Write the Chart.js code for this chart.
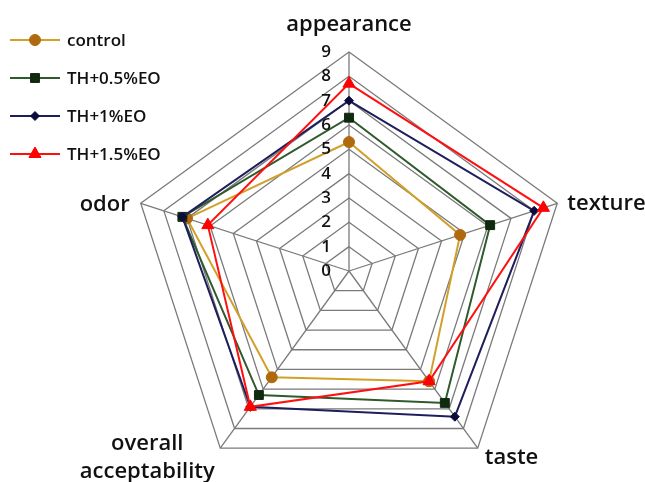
<!DOCTYPE html>
<html>
<head>
<meta charset="utf-8">
<script src="https://cdn.jsdelivr.net/npm/chart.js@4/dist/chart.umd.min.js"></script>
<style>
  html, body { margin: 0; padding: 0; background: #fff; overflow: hidden; }
  #wrap { width: 645px; height: 482px; overflow: hidden; }
</style>
</head>
<body>
<div id="wrap"><canvas id="radar" width="645" height="500"></canvas></div>
<script>
const attributes = ['appearance', 'texture', 'taste', ['overall', 'acceptability'], 'odor'];
const seriesNames = ['control', 'TH+0.5%EO', 'TH+1%EO', 'TH+1.5%EO'];
const controlValues = [5.3, 4.8, 5.6, 5.4, 7.0];
const th05Values = [6.3, 6.1, 6.7, 6.3, 7.2];
const th1Values = [7.0, 8.0, 7.4, 6.9, 7.2];
const th15Values = [7.7, 8.4, 5.6, 6.9, 6.1];
const tickValues = [0, 1, 2, 3, 4, 5, 6, 7, 8, 9];

const styles = [
    { line: '#d2a02a', point: '#b0690c', shape: 'circle', radius: 5.5 },
    { line: '#2f5a2c', point: '#102a10', shape: 'rect', radius: 6.3 },
    { line: '#1e1e5c', point: '#0c0c3c', shape: 'rectRot', radius: 4.5 },
    { line: '#ff1010', point: '#ff0000', shape: 'triangle', radius: 7 }
];

const allValues = [controlValues, th05Values, th1Values, th15Values];

const datasets = seriesNames.map((name, i) => ({
    label: name,
    data: allValues[i],
    borderColor: styles[i].line,
    backgroundColor: styles[i].point,
    pointBackgroundColor: styles[i].point,
    pointBorderColor: styles[i].point,
    pointStyle: styles[i].shape,
    pointRadius: styles[i].radius,
    pointBorderWidth: 1,
    borderWidth: 2,
    fill: false,
    tension: 0,
    order: 4 - i
}));

// tick numbers, axis names and the legend are drawn here
const labelPlugin = {
    id: 'labelPlugin',
    afterDraw(chart) {
        const ctx = chart.ctx;
        const r = chart.scales.r;
        ctx.save();
        ctx.fillStyle = '#111';

        ctx.font = '600 17px "Open Sans"';
        ctx.textAlign = 'right';
        ctx.textBaseline = 'middle';
        tickValues.forEach(v => {
            ctx.fillText(String(v), r.xCenter - 18, r.yCenter - r.getDistanceFromCenterForValue(v));
        });

        ctx.font = '600 22px "Open Sans"';
        const outer = r.getDistanceFromCenterForValue(9);
        const shifts = [
            { dx: 0, dy: -27, align: 'center' },
            { dx: 10, dy: 0, align: 'left' },
            { dx: 7, dy: 10, align: 'left' },
            { dx: -73, dy: -4, align: 'center' },
            { dx: -11, dy: 1, align: 'right' }
        ];
        attributes.forEach((name, i) => {
            const p = r.getPointPosition(i, outer);
            const s = shifts[i];
            ctx.textAlign = s.align;
            const lines = Array.isArray(name) ? name : [name];
            lines.forEach((ln, k) => ctx.fillText(ln, p.x + s.dx, p.y + s.dy + k * 28));
        });

        ctx.font = '600 17px "Open Sans"';
        ctx.textAlign = 'left';
        seriesNames.forEach((name, i) => {
            const y = 40 + i * 38;
            ctx.strokeStyle = styles[i].line;
            ctx.lineWidth = 2;
            ctx.beginPath();
            ctx.moveTo(10, y);
            ctx.lineTo(60, y);
            ctx.stroke();
            ctx.fillStyle = styles[i].point;
            ctx.strokeStyle = styles[i].point;
            ctx.lineWidth = 1;
            Chart.helpers.drawPoint(ctx, { pointStyle: styles[i].shape, radius: styles[i].radius, rotation: 0, borderWidth: 1 }, 35, y);
            ctx.fillStyle = '#111';
            ctx.fillText(name, 67, y + 1);
        });
        ctx.restore();
    }
};

new Chart(document.getElementById('radar').getContext('2d'), {
    type: 'radar',
    data: {
        labels: attributes,
        datasets: datasets
    },
    options: {
        responsive: false,
        animation: false,
        layout: { padding: { left: 130, right: 77, top: 52, bottom: 10 } },
        plugins: {
            legend: { display: false },
            tooltip: { enabled: false }
        },
        scales: {
            r: {
                min: 0,
                max: 9,
                ticks: { stepSize: 1, display: false },
                pointLabels: { display: false },
                grid: { color: '#7a7a7a', lineWidth: 1.3 },
                angleLines: { color: '#7a7a7a', lineWidth: 1.3 }
            }
        }
    },
    plugins: [labelPlugin]
});
</script>
</body>
</html>
